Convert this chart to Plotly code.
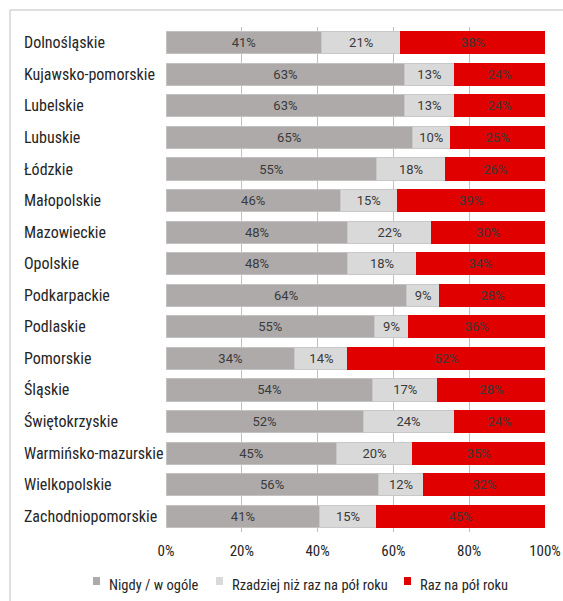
import plotly.graph_objects as go

regions = ["Dolnośląskie", "Kujawsko-pomorskie", "Lubelskie", "Lubuskie", "Łódzkie",
           "Małopolskie", "Mazowieckie", "Opolskie", "Podkarpackie", "Podlaskie",
           "Pomorskie", "Śląskie", "Świętokrzyskie", "Warmińsko-mazurskie",
           "Wielkopolskie", "Zachodniopomorskie"]
nigdy = [41, 63, 63, 65, 55, 46, 48, 48, 64, 55, 34, 54, 52, 45, 56, 41]
rzadziej = [21, 13, 13, 10, 18, 15, 22, 18, 9, 9, 14, 17, 24, 20, 12, 15]
raz = [38, 24, 24, 25, 26, 39, 30, 34, 28, 36, 52, 28, 24, 35, 32, 45]
series_names = ["Nigdy / w ogóle", "Rzadziej niż raz na pół roku", "Raz na pół roku"]
tick_vals = [0, 20, 40, 60, 80, 100]
tick_text = ["0%", "20%", "40%", "60%", "80%", "100%"]

colors = ["#AEAAAA", "#D9D9D9", "#E10000"]
lines = ["#C4C1C1", "#C8C8C8", "#E10000"]
FONT = "Roboto Condensed, Liberation Sans Narrow, DejaVu Sans Condensed, Roboto"
LABEL_FONT = "Roboto"

W, H = 563, 601
ml, mr, mt, mb = 166, 18, 27, 69
pw, ph = W - ml - mr, H - mt - mb


def px_x(p):
    return (p - ml) / pw


def px_y(p):
    return (mt + ph - p) / ph


fig = go.Figure()
for name, vals, c, lc in zip(series_names, [nigdy, rzadziej, raz], colors, lines):
    fig.add_trace(go.Bar(
        y=regions, x=vals, name=name, orientation="h",
        marker=dict(color=c, line=dict(color=lc, width=1)),
        text=[f"{v}%" for v in vals], textposition="inside",
        insidetextanchor="middle",
        textfont=dict(family=LABEL_FONT, size=13, color="#3A3A3A"),
        hoverinfo="skip", showlegend=False,
    ))

annotations = [dict(x=px_x(22), xref="paper", y=r, yref="y", text=r,
                    showarrow=False, xanchor="left", yanchor="middle",
                    font=dict(family=FONT, size=16, color="#262626"))
               for r in regions]

shapes = [dict(type="rect", xref="paper", yref="paper",
               x0=px_x(10), x1=1.3, y0=-0.3, y1=px_y(10),
               line=dict(color="#BFBFBF", width=1), fillcolor="rgba(0,0,0,0)",
               layer="below")]

# custom legend
legend_text_x = [107, 230, 418]
for name, c, tx in zip(series_names, colors, legend_text_x):
    shapes.append(dict(type="rect", xref="paper", yref="paper",
                       x0=px_x(tx - 14), x1=px_x(tx - 7), y0=px_y(585), y1=px_y(577),
                       line=dict(width=0), fillcolor=c, layer="above"))
    annotations.append(dict(x=px_x(tx), xref="paper", y=px_y(585), yref="paper",
                            text=name, showarrow=False, xanchor="left", yanchor="middle",
                            font=dict(family=FONT, size=14.5, color="#262626")))

fig.update_layout(
    width=W, height=H, barmode="stack", barnorm="percent", bargap=0.3,
    margin=dict(l=ml, r=mr, t=mt, b=mb, autoexpand=False),
    paper_bgcolor="white", plot_bgcolor="white",
    font=dict(family=FONT, color="#262626"),
    uniformtext=dict(minsize=8, mode="show"),
    xaxis=dict(range=[0, 100], tickvals=tick_vals, ticktext=tick_text,
               showgrid=True, gridcolor="#C0C0C0", gridwidth=1,
               zeroline=False, showline=False, ticks="", fixedrange=True,
               ticklabelstandoff=8,
               tickfont=dict(family=FONT, size=15, color="#262626")),
    yaxis=dict(autorange="reversed", showticklabels=False, showgrid=False,
               zeroline=False, showline=False, ticks=""),
    showlegend=False,
    annotations=annotations,
    shapes=shapes,
)
fig.write_html("out.html")
